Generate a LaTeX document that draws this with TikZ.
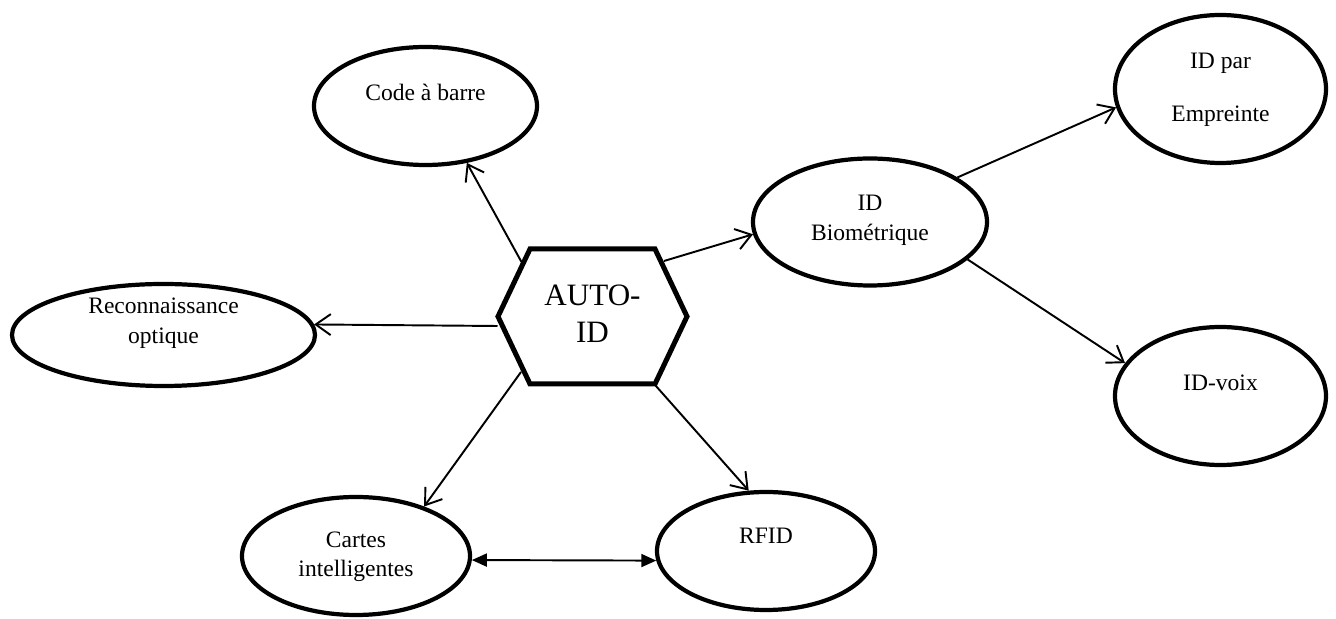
\documentclass[tikz,border=0pt]{standalone}
\usepackage{fontspec}
\setmainfont{Liberation Serif}
\usetikzlibrary{arrows.meta,shapes.geometric}

\begin{document}
\begin{tikzpicture}[x=0.2mm, y=-0.2mm,
     bulle/.style={ellipse, draw, line width=2.4pt, inner sep=0pt},
     hexa/.style={inner sep=0pt, align=center, font=\fontsize{17.7}{21}\selectfont},
     bord/.style={draw, line width=2.85pt},
     txt/.style={inner sep=0pt, align=center, anchor=base,
                 font=\fontsize{13.4}{17.6}\selectfont},
     fl/.style={-{Straight Barb[length=3mm,width=4.2mm]}, line width=1.1pt},
     fl2/.style={{Triangle[length=3mm,width=2.6mm]}-{Triangle[length=3mm,width=2.6mm]},
                 line width=1.1pt}]
    \useasboundingbox (0,0) rectangle (1336,619);
    \node[hexa] (auto) at (592.5,313.5) {AUTO-\\ID};
    \draw[bord] (auto.center) ++(-94.5,3) -- ++(32,-67.5) -- ++(125,0) -- ++(32,67.5)
                -- ++(-32,67.5) -- ++(-125,0) -- cycle;
    \node[bulle, minimum width=44.6mm, minimum height=23.6mm] (code) at (425.5,106) {};
    \node[bulle, minimum width=60.6mm, minimum height=20.4mm] (reco) at (163.5,335) {};
    \node[bulle, minimum width=46.8mm, minimum height=25.4mm] (bio) at (870,222) {};
    \node[bulle, minimum width=42.2mm, minimum height=29.6mm] (emp) at (1220.5,89) {};
    \node[bulle, minimum width=42.2mm, minimum height=27.6mm] (voix) at (1220.5,396) {};
    \node[bulle, minimum width=45.6mm, minimum height=23.6mm] (cartes) at (356,556) {};
    \node[bulle, minimum width=43.6mm, minimum height=23.6mm] (rfid) at (766,551) {};
    % textes
    \node[txt] (code-t) at (425.5,101) {Code à barre};
    \node[txt] (reco-t) at (163.5,344) {Reconnaissance\\optique};
    \node[txt] (bio-t) at (870,241) {ID\\Biométrique};
    \node[txt, font=\fontsize{13.4}{30.6}\selectfont] (emp-t) at (1220.5,122) {ID par\\Empreinte};
    \node[txt] (voix-t) at (1220.5,391) {ID-voix};
    \node[txt, font=\fontsize{13.4}{17}\selectfont] (cartes-t) at (356,577) {Cartes\\intelligentes};
    \node[txt] (rfid-t) at (766,544) {RFID};
    % fleches
    \draw[fl] ([shift={(-71,-51.5)}]auto.center) -- (code.-54);
    \draw[fl] ([shift={(-95,12.5)}]auto.center) -- (reco.4);
    \draw[fl] ([shift={(71.5,-52.5)}]auto.center) -- (bio.186);
    \draw[fl] ([shift={(-71.5,58.5)}]auto.center) -- (cartes.36);
    \draw[fl] ([shift={(63,72)}]auto.center) -- (rfid.106);
    \draw[fl] (bio.27) -- (emp.190);
    \draw[fl] (bio.-21) -- (voix.161);
    \draw[fl2] (cartes.-2) -- (rfid.185);
\end{tikzpicture}
\end{document}
